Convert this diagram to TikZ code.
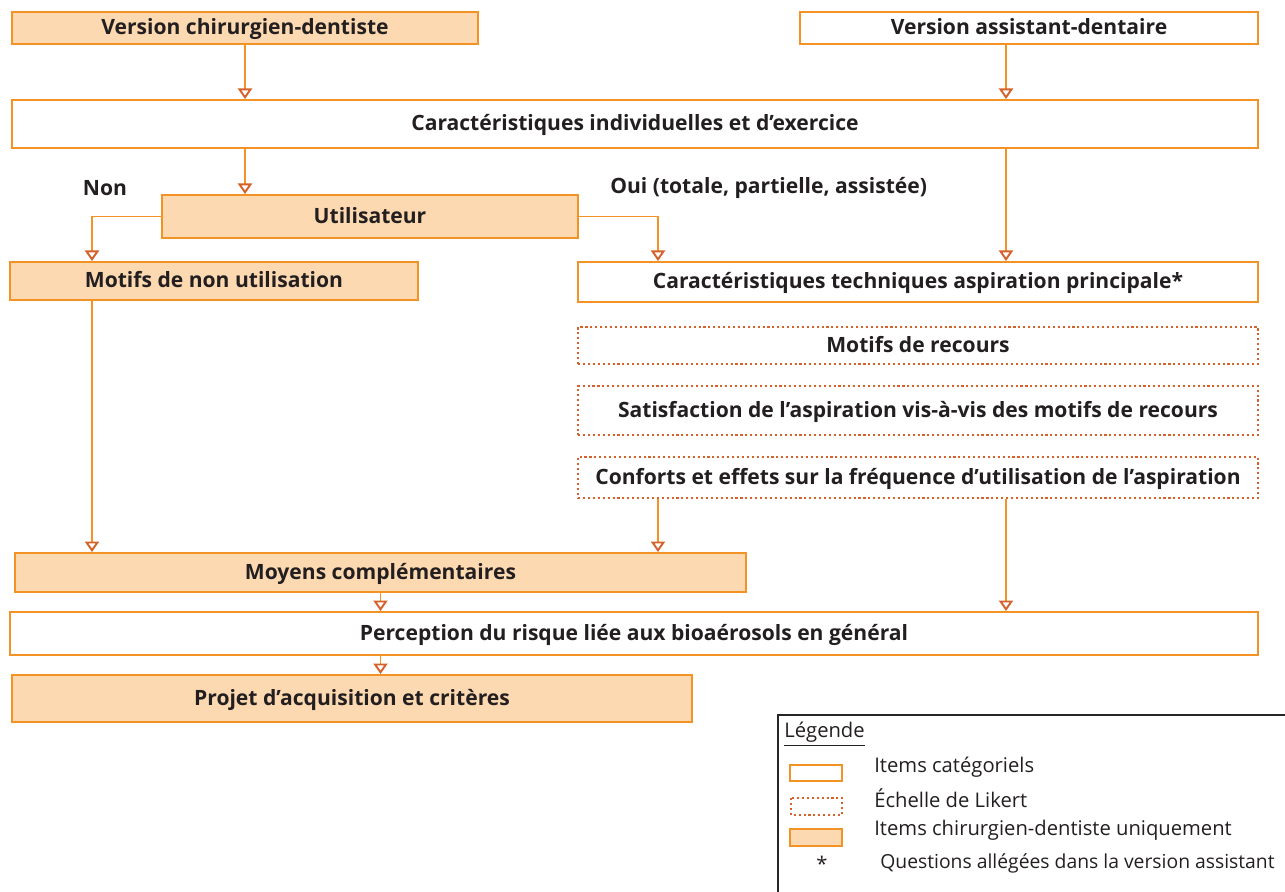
\documentclass[tikz,border=0pt]{standalone}
\usepackage{fontspec}
\setmainfont{Open Sans}
\usepackage{tikz}
\usetikzlibrary{positioning,arrows.meta,calc}
\definecolor{boxorange}{HTML}{F39325}
\definecolor{peach}{HTML}{FCD9B0}
\definecolor{tiporange}{HTML}{D4622A}
\definecolor{inkgray}{HTML}{231F20}
\tikzset{
    item box/.style={
        draw=boxorange,line width=1.1pt,
        inner sep=0pt,anchor=center,text=inkgray,
        text height=1.4ex,text depth=0pt,
        font=\bfseries\fontsize{12}{14}\selectfont
    },
    dentist box/.style={item box,fill=peach},
    likert box/.style={item box,draw=tiporange,line width=1.2pt,
        dash pattern=on 1.2pt off 1.6pt},
    legend text/.style={anchor=west,inner sep=0pt,text=inkgray,font=\fontsize{11.5}{13}\selectfont},
    >={Triangle[open,width=8pt,length=6pt,color=tiporange]},
}
\tikzstyle{flow} = [boxorange,line width=1.1pt,->]

\begin{document}
\begin{tikzpicture}[x=0.02cm,y=-0.02cm]
    \clip (0,0) rectangle (1285,892);
    % columns of the connectors
    \coordinate (ncol) at (92,0);
    \coordinate (ocol) at (658,0);
    \coordinate (rcol) at (1006,0);

    \node[dentist box,minimum width=9.32cm,minimum height=.64cm] (chir) at (245,28) {Version chirurgien-dentiste};
    \node[item box,minimum width=9.16cm,minimum height=.64cm] (assist) at (1029,28) {Version assistant-dentaire};
    \node[item box,minimum width=24.92cm,minimum height=.96cm] (indiv) at (635,124) {Caractéristiques individuelles et d’exercice};
    \node[dentist box,minimum width=8.32cm,minimum height=.86cm] (util) at (370,216.5) {Utilisateur};
    \node[dentist box,minimum width=8.16cm,minimum height=.76cm] (nonutil) at (214,281) {Motifs de non utilisation};
    \node[item box,minimum width=13.6cm,minimum height=.8cm] (tech) at (918,282) {Caractéristiques techniques aspiration principale*};
    \node[likert box,minimum width=13.6cm,minimum height=.74cm] (recours) at (918,345.5) {Motifs de recours};
    \node[likert box,minimum width=13.6cm,minimum height=.98cm] (satisf) at (918,410.5) {Satisfaction de l’aspiration vis-à-vis des motifs de recours};
    \node[likert box,minimum width=13.6cm,minimum height=.82cm] (conforts) at (918,477.5) {Conforts et effets sur la fréquence d’utilisation de l’aspiration};
    \node[dentist box,minimum width=14.62cm,minimum height=.78cm] (moyens) at (380.5,572.5) {Moyens complémentaires};
    \node[item box,minimum width=24.96cm,minimum height=.86cm] (percep) at (634,633.5) {Perception du risque liée aux bioaérosols en général};
    \node[dentist box,minimum width=13.6cm,minimum height=.94cm] (projet) at (352,698.5) {Projet d’acquisition et critères};

    \node[text=inkgray,font=\bfseries\fontsize{12}{14}\selectfont] (non) at (105,188) {Non};
    \node[text=inkgray,font=\bfseries\fontsize{12}{14}\selectfont,anchor=west,inner sep=0pt] (oui) at (610,188) {Oui (totale, partielle, assistée)};

    \draw[flow] (chir.south) -- (chir.south |- indiv.north);
    \draw[flow] (assist.south -| rcol) -- (indiv.north -| rcol);
    \draw[flow] (indiv.south -| chir.south) -- (util.north -| chir.south);
    \draw[flow] (util.west) -| (nonutil.north -| ncol);
    \draw[flow] (util.east) -| (tech.north -| ocol);
    \draw[flow] (indiv.south -| rcol) -- (tech.north -| rcol);
    \draw[flow] (nonutil.south -| ncol) -- (moyens.north -| ncol);
    \draw[flow] (conforts.south -| ocol) -- (moyens.north -| ocol);
    \draw[flow] (conforts.south -| rcol) -- (percep.north -| rcol);
    \draw[flow] (moyens.south) -- (moyens.south |- percep.north);
    \draw[flow] (percep.south -| moyens.south) -- (projet.north -| moyens.south);

    % legend
    \draw[black!85,line width=.8pt] (778,715) rectangle (1310,910);
    \node[legend text] (leg) at (784,734) {\underline{Légende}};
    \draw[item box] (790,765) rectangle (842,781);
    \draw[likert box] (791,798) rectangle (842,815);
    \draw[dentist box] (790,829) rectangle (842,846);
    \node[text=inkgray,font=\fontsize{11.5}{13}\selectfont] (star) at (822,864) {*};
    \node[legend text] (l1) at (874,767) {Items catégoriels};
    \node[legend text] (l2) at (874,798) {Échelle de Likert};
    \node[legend text] (l3) at (874,830) {Items chirurgien-dentiste uniquement};
    \node[legend text,font=\fontsize{11}{13}\selectfont] (l4) at (880,863) {Questions allégées dans la version assistant};
\end{tikzpicture}
\end{document}
